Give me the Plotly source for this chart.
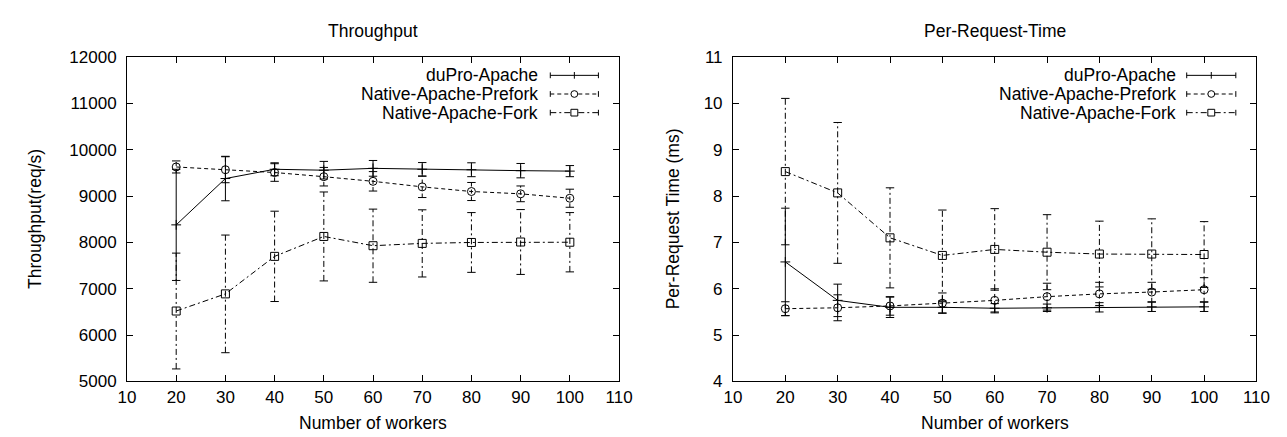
import plotly.graph_objects as go

# ---------------- data ----------------
workers = [20, 30, 40, 50, 60, 70, 80, 90, 100]

tp_dupro = [8380, 9380, 9580, 9560, 9600, 9580, 9570, 9550, 9540]
tp_dupro_err = [1200, 480, 140, 190, 170, 145, 150, 155, 120]
tp_prefork = [9630, 9570, 9510, 9420, 9320, 9200, 9100, 9050, 8955]
tp_prefork_err = [130, 280, 190, 200, 210, 230, 195, 170, 195]
tp_fork = [6520, 6890, 7700, 8130, 7930, 7980, 8000, 8010, 8005]
tp_fork_err = [1250, 1270, 975, 960, 790, 725, 645, 700, 640]

rt_dupro = [6.58, 5.75, 5.60, 5.60, 5.58, 5.59, 5.60, 5.61, 5.61]
rt_dupro_err = [1.16, 0.35, 0.22, 0.12, 0.10, 0.08, 0.10, 0.10, 0.10]
rt_prefork = [5.57, 5.59, 5.63, 5.69, 5.75, 5.83, 5.89, 5.93, 5.98]
rt_prefork_err = [0.15, 0.28, 0.20, 0.22, 0.25, 0.29, 0.25, 0.21, 0.26]
rt_fork = [8.53, 8.07, 7.10, 6.72, 6.85, 6.79, 6.75, 6.75, 6.74]
rt_fork_err = [1.58, 1.52, 1.08, 0.98, 0.88, 0.81, 0.71, 0.76, 0.71]

series_names = ["duPro-Apache", "Native-Apache-Prefork", "Native-Apache-Fork"]

# ---------------- styles ----------------
W, H = 1287, 437
FONT = "Liberation Sans, Arial, Helvetica, sans-serif"
FS = 17
FS_TXT = 17.5
styles = [
    dict(dash="solid", symbol="cross-thin", size=7, kind="plus"),
    dict(dash="4px,3px", symbol="circle-open", size=8, kind="circle"),
    dict(dash="6px,3px,2px,3px", symbol="square-open", size=8, kind="square"),
]

fig = go.Figure()


def add_series(x, y, e, st, xa, ya):
    xs, ys = [], []
    for xi, yi, ei in zip(x, y, e):
        xs += [xi, xi, None]
        ys += [yi - ei, yi + ei, None]
    fig.add_trace(go.Scatter(x=xs, y=ys, mode="lines", xaxis=xa, yaxis=ya,
                             line=dict(color="black", width=1, dash=st["dash"]),
                             showlegend=False, hoverinfo="skip"))
    lo = [yi - ei for yi, ei in zip(y, e)]
    hi = [yi + ei for yi, ei in zip(y, e)]
    fig.add_trace(go.Scatter(x=list(x) + list(x), y=lo + hi, mode="markers",
                             xaxis=xa, yaxis=ya,
                             marker=dict(symbol="line-ew", size=6,
                                         line=dict(color="black", width=1)),
                             showlegend=False, hoverinfo="skip"))
    fig.add_trace(go.Scatter(x=x, y=y, mode="lines+markers", xaxis=xa, yaxis=ya,
                             line=dict(color="black", width=1, dash=st["dash"]),
                             marker=dict(symbol=st["symbol"], size=st["size"],
                                         color="black",
                                         line=dict(color="black", width=1)),
                             showlegend=False))


left = [(tp_dupro, tp_dupro_err), (tp_prefork, tp_prefork_err), (tp_fork, tp_fork_err)]
right = [(rt_dupro, rt_dupro_err), (rt_prefork, rt_prefork_err), (rt_fork, rt_fork_err)]
for (y, e), st in zip(left, styles):
    add_series(workers, y, e, st, "x", "y")
for (y, e), st in zip(right, styles):
    add_series(workers, y, e, st, "x2", "y2")

# ---------------- custom gnuplot-style legends (shapes in paper coords) ----------------
def px(v):
    return v / W


def py(v):
    return 1 - v / H


shapes = []
annotations = []
legend_boxes = [
    dict(text_right=533, s0=543, s1=592),
    dict(text_right=1182, s0=1191, s1=1241),
]
rows = [61, 80.5, 100]
for box in legend_boxes:
    for name, st, ry in zip(series_names, styles, rows):
        annotations.append(dict(x=px(box["text_right"]), y=py(ry), xref="paper",
                                yref="paper", text=name, showarrow=False,
                                xanchor="right", yanchor="middle",
                                font=dict(family=FONT, size=FS_TXT, color="black")))
        ln = dict(color="black", width=1)
        shapes.append(dict(type="line", xref="paper", yref="paper",
                           x0=px(box["s0"]), x1=px(box["s1"]), y0=py(ry), y1=py(ry),
                           line=dict(color="black", width=1, dash=st["dash"])))
        for sx in (box["s0"], box["s1"]):
            shapes.append(dict(type="line", xref="paper", yref="paper",
                               x0=px(sx), x1=px(sx), y0=py(ry - 3), y1=py(ry + 3),
                               line=ln))
        cx = (box["s0"] + box["s1"]) / 2
        if st["kind"] == "plus":
            shapes.append(dict(type="line", xref="paper", yref="paper",
                               x0=px(cx), x1=px(cx), y0=py(ry - 3.5), y1=py(ry + 3.5),
                               line=ln))
        elif st["kind"] == "circle":
            shapes.append(dict(type="circle", xref="paper", yref="paper",
                               x0=px(cx - 3.5), x1=px(cx + 3.5),
                               y0=py(ry - 3.5), y1=py(ry + 3.5),
                               line=ln, fillcolor="white"))
        else:
            shapes.append(dict(type="rect", xref="paper", yref="paper",
                               x0=px(cx - 3.5), x1=px(cx + 3.5),
                               y0=py(ry - 3.5), y1=py(ry + 3.5),
                               line=ln, fillcolor="white"))


def txt(x, y, s, angle=0):
    annotations.append(dict(x=px(x), y=py(y), xref="paper", yref="paper", text=s,
                            showarrow=False, xanchor="center", yanchor="middle",
                            textangle=angle,
                            font=dict(family=FONT, size=FS_TXT, color="black")))


txt(362.5, 15, "Throughput")
txt(995.5, 15, "Per-Request-Time")
txt(362.5, 424, "Number of workers")
txt(995.5, 424, "Number of workers")
txt(19, 211.5, "Throughput(req/s)", -90)
txt(668, 211.5, "Per-Request Time (ms)", -90)

ydom = [(H - 381) / H, (H - 42) / H]
axis_common = dict(showline=True, linecolor="black", linewidth=1, mirror="ticks",
                   ticks="inside", ticklen=6, tickcolor="black", showgrid=False,
                   zeroline=False, tickfont=dict(family=FONT, size=FS, color="black"))

fig.update_layout(
    width=W, height=H, margin=dict(l=0, r=0, t=0, b=0),
    paper_bgcolor="white", plot_bgcolor="white", showlegend=False,
    xaxis=dict(domain=[112 / W, 613 / W], range=[10, 110], dtick=10, anchor="y",
               **axis_common),
    yaxis=dict(domain=ydom, range=[5000, 12000], dtick=1000, anchor="x",
               tickformat="d", ticklabelstandoff=6, **axis_common),
    xaxis2=dict(domain=[729 / W, 1262 / W], range=[10, 110], dtick=10, anchor="y2",
                **axis_common),
    yaxis2=dict(domain=ydom, range=[4, 11], dtick=1, anchor="x2",
                ticklabelstandoff=6, **axis_common),
    shapes=shapes,
    annotations=annotations,
)

fig.write_html("out.html")
